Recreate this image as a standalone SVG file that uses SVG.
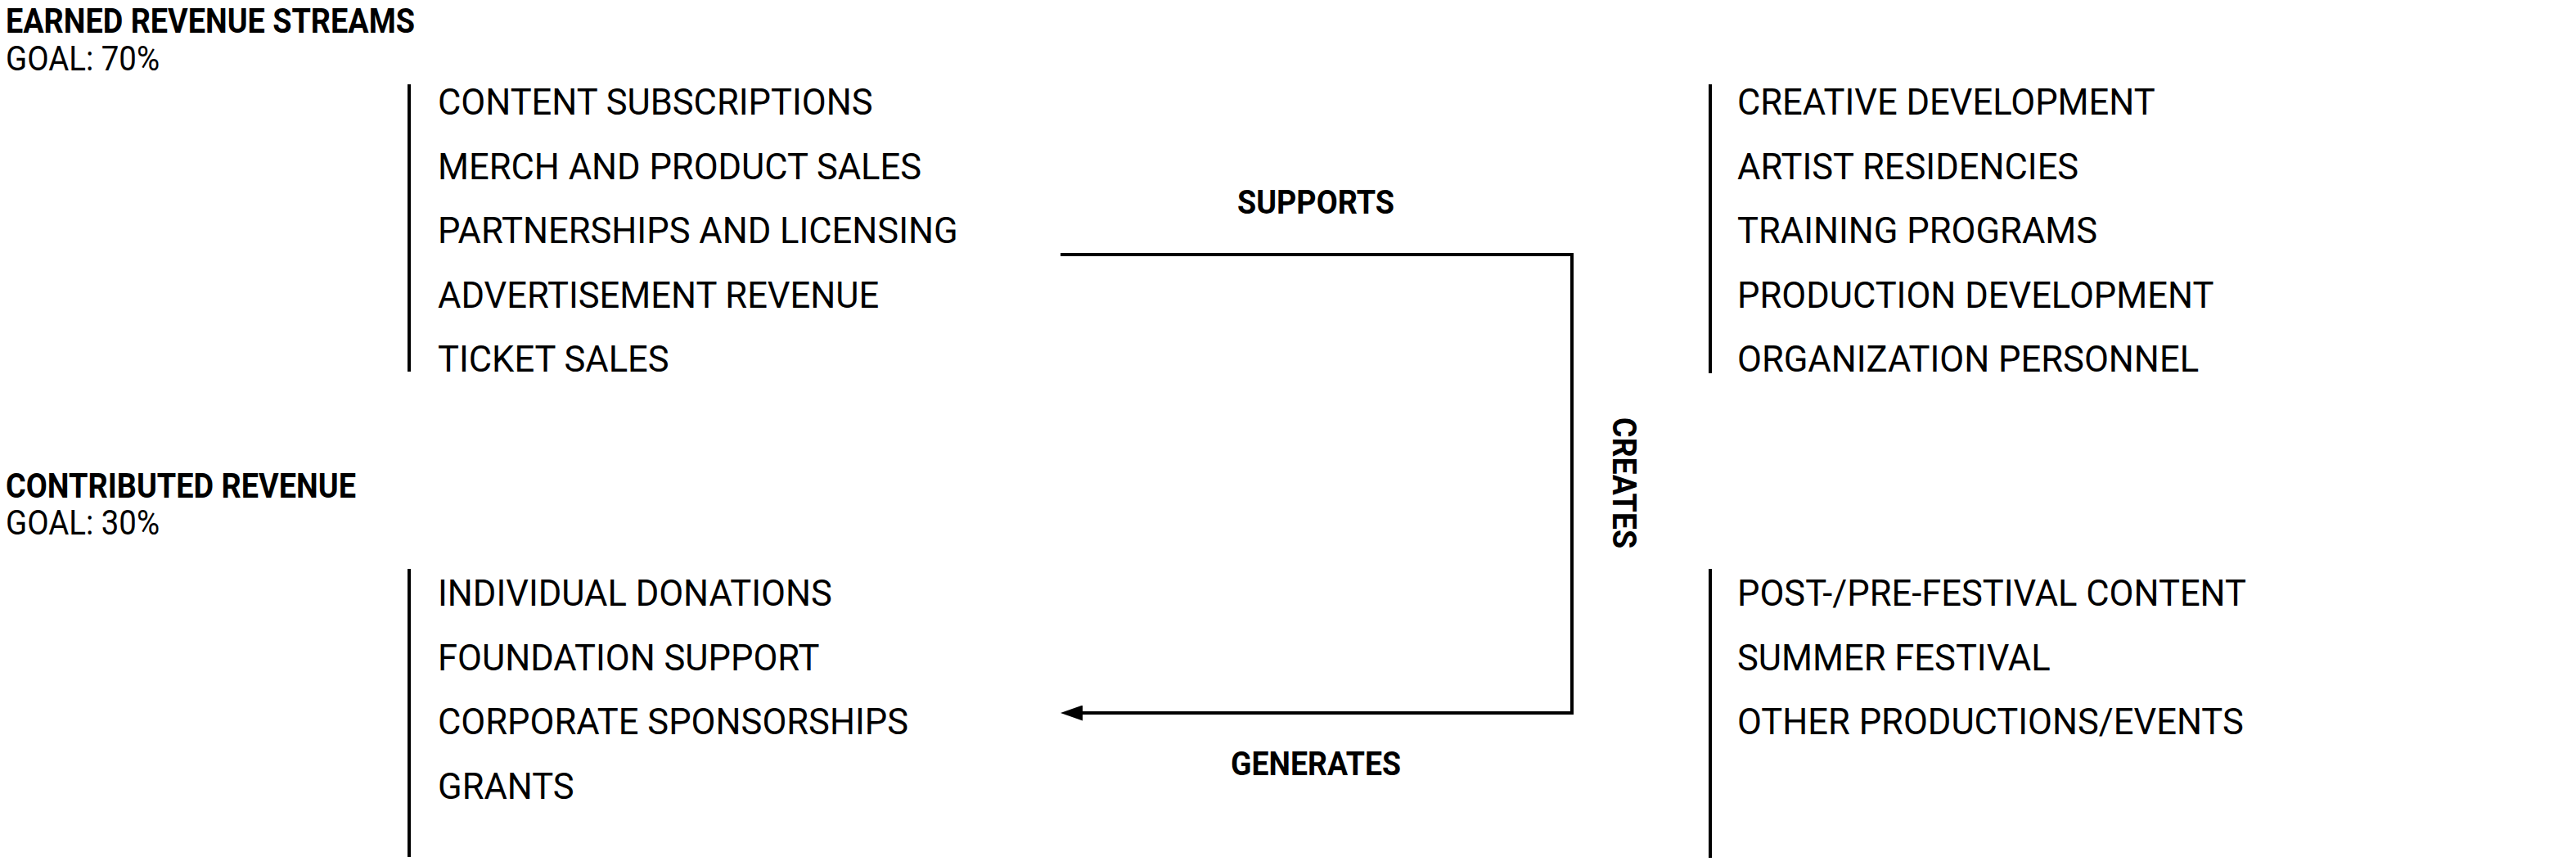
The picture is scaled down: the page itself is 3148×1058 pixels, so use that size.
<svg xmlns="http://www.w3.org/2000/svg" width="3148" height="1058" viewBox="0 0 3148 1058">
<style>
  .hd { font-family: Roboto, "Liberation Sans", sans-serif; font-weight: 700; font-size: 42px; fill: #000; }
  .goal { font-family: Roboto, "Liberation Sans", sans-serif; font-weight: 400; font-size: 42px; fill: #000; }
  .item { font-family: Roboto, "Liberation Sans", sans-serif; font-weight: 400; font-size: 43.5px; fill: #000; }
  .lbl { font-family: Roboto, "Liberation Sans", sans-serif; font-weight: 700; font-size: 40px; fill: #000; }
  .bar { stroke: #000; stroke-width: 4; fill: none; }
  .conn { stroke: #000; stroke-width: 4; fill: none; stroke-linejoin: miter; }
</style>
<defs>
  <marker id="arrow" viewBox="0 0 27 19" refX="13" refY="9.5" markerWidth="27" markerHeight="19" markerUnits="userSpaceOnUse" orient="auto">
    <path d="M0,0 L27,9.5 L0,19 z" fill="#000"/>
  </marker>
</defs>
<rect width="3148" height="1058" fill="#fff"/>

<g id="earned-header">
  <text class="hd" x="7" y="40" textLength="500" lengthAdjust="spacingAndGlyphs">EARNED REVENUE STREAMS</text>
  <text class="goal" x="7" y="86" textLength="188" lengthAdjust="spacingAndGlyphs">GOAL: 70%</text>
</g>

<g id="earned-list">
  <line class="bar" x1="500" y1="103" x2="500" y2="454"/>
  <text class="item" x="535" y="140">CONTENT SUBSCRIPTIONS</text>
  <text class="item" x="535" y="219">MERCH AND PRODUCT SALES</text>
  <text class="item" x="535" y="297">PARTNERSHIPS AND LICENSING</text>
  <text class="item" x="535" y="376">ADVERTISEMENT REVENUE</text>
  <text class="item" x="535" y="454">TICKET SALES</text>
</g>

<g id="contributed-header">
  <text class="hd" x="7" y="608" textLength="428" lengthAdjust="spacingAndGlyphs">CONTRIBUTED REVENUE</text>
  <text class="goal" x="7" y="653" textLength="188" lengthAdjust="spacingAndGlyphs">GOAL: 30%</text>
</g>

<g id="contributed-list">
  <line class="bar" x1="500" y1="695" x2="500" y2="1047"/>
  <text class="item" x="535" y="740">INDIVIDUAL DONATIONS</text>
  <text class="item" x="535" y="819">FOUNDATION SUPPORT</text>
  <text class="item" x="535" y="897">CORPORATE SPONSORSHIPS</text>
  <text class="item" x="535" y="976">GRANTS</text>
</g>

<g id="programs-list">
  <line class="bar" x1="2090" y1="103" x2="2090" y2="456"/>
  <text class="item" x="2123" y="140">CREATIVE DEVELOPMENT</text>
  <text class="item" x="2123" y="219">ARTIST RESIDENCIES</text>
  <text class="item" x="2123" y="297">TRAINING PROGRAMS</text>
  <text class="item" x="2123" y="376">PRODUCTION DEVELOPMENT</text>
  <text class="item" x="2123" y="454">ORGANIZATION PERSONNEL</text>
</g>

<g id="events-list">
  <line class="bar" x1="2090" y1="695" x2="2090" y2="1048"/>
  <text class="item" x="2123" y="740">POST-/PRE-FESTIVAL CONTENT</text>
  <text class="item" x="2123" y="819">SUMMER FESTIVAL</text>
  <text class="item" x="2123" y="897">OTHER PRODUCTIONS/EVENTS</text>
</g>

<g id="connectors">
  <path class="conn" d="M1296,311 H1921 V871 H1310" marker-end="url(#arrow)"/>
  <text class="lbl" x="1608" y="261" text-anchor="middle" textLength="192" lengthAdjust="spacingAndGlyphs">SUPPORTS</text>
  <text class="lbl" x="1608" y="947" text-anchor="middle" textLength="208" lengthAdjust="spacingAndGlyphs">GENERATES</text>
  <text class="lbl" transform="translate(1971,590) rotate(90)" x="0" y="0" text-anchor="middle" textLength="160" lengthAdjust="spacingAndGlyphs">CREATES</text>
</g>
</svg>
